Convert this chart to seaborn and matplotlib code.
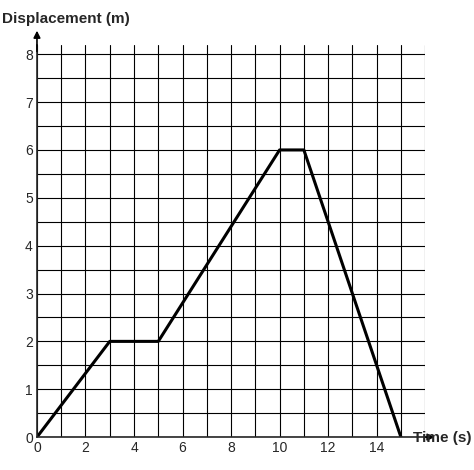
import matplotlib
matplotlib.use("Agg")
import matplotlib.pyplot as plt
import seaborn as sns
import numpy as np
import pandas as pd

time_s = [0, 3, 5, 10, 11, 15]
disp_m = [0, 2, 2, 6, 6, 0]
xticks = [0, 2, 4, 6, 8, 10, 12, 14]
yticks = [0, 1, 2, 3, 4, 5, 6, 7, 8]

sns.set_style("white")
plt.rcParams['font.family'] = ['Liberation Sans', 'DejaVu Sans']
fig = plt.figure(figsize=(4.74, 4.70), dpi=100)
ax = fig.add_axes([0.078, 0.070, 0.819, 0.835])
df = pd.DataFrame({"t": time_s, "d": disp_m})
sns.lineplot(data=df, x="t", y="d", ax=ax, color="black", linewidth=2.2, sort=False)
ax.set_xlim(0, 16)
ax.set_ylim(0, 8.2)
ax.set_xticks(np.arange(0, 17, 1), minor=True)
ax.set_yticks(np.arange(0, 8.5, 0.5), minor=True)
ax.set_xticks(xticks)
ax.set_yticks(yticks)
ax.grid(True, which="both", color="black", linewidth=0.8)
ax.tick_params(labelsize=10, length=0, pad=3)
for s in ["top", "right"]:
    ax.spines[s].set_visible(False)
for s in ["left", "bottom"]:
    ax.spines[s].set_linewidth(1.2)
ax.set_xlabel(""); ax.set_ylabel("")
ax.annotate("", xy=(0, 8.55), xytext=(0, 8.0), xycoords="data", annotation_clip=False,
            arrowprops=dict(arrowstyle="-|>", color="black", lw=1.2))
ax.annotate("", xy=(16.5, 0), xytext=(15.9, 0), annotation_clip=False,
            arrowprops=dict(arrowstyle="-|>", color="black", lw=1.2))
fig.text(0.005, 0.975, "Displacement (m)", fontsize=11, fontweight="bold", va="top")
fig.text(0.995, 0.068, "Time (s)", fontsize=11, fontweight="bold", ha="right", va="center")
fig.savefig("out.png", dpi=100)
